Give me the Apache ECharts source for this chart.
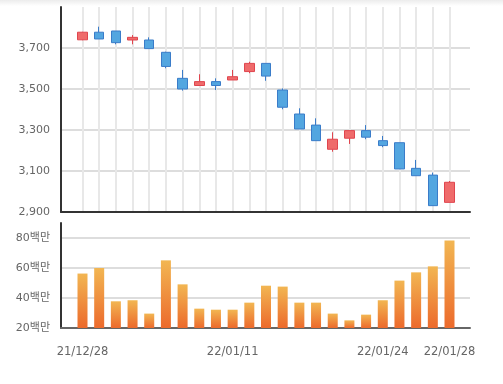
<!DOCTYPE html>
<html>
<head>
<meta charset="utf-8">
<script src="https://cdn.jsdelivr.net/npm/echarts@6/dist/echarts.min.js"></script>
<style>
html,body{margin:0;padding:0;background:#fff;}
#chart{width:503px;height:384px;}
</style>
</head>
<body>
<div id="chart"></div>
<script>
// ---- data ----
const dates = ['21/12/28','21/12/29','21/12/30','22/01/03','22/01/04','22/01/05','22/01/06','22/01/07','22/01/10','22/01/11','22/01/12','22/01/13','22/01/14','22/01/17','22/01/18','22/01/19','22/01/20','22/01/21','22/01/24','22/01/25','22/01/26','22/01/27','22/01/28'];
const opens  = [3740,3777,3783,3739,3739,3679,3552,3517,3536,3544,3585,3625,3495,3378,3324,3206,3260,3297,3248,3238,3113,3080,2947];
const closes = [3777,3744,3726,3752,3697,3610,3500,3536,3517,3560,3625,3563,3411,3305,3248,3255,3297,3265,3224,3110,3077,2931,3045];
const lows   = [3738,3744,3718,3718,3697,3601,3492,3517,3495,3544,3577,3540,3401,3305,3248,3194,3232,3255,3216,3110,3077,2931,2947];
const highs  = [3779,3804,3783,3763,3752,3682,3593,3572,3552,3593,3633,3625,3503,3406,3357,3289,3297,3324,3271,3238,3154,3092,3051];
const volumes = [56.3,60,37.8,38.5,29.6,65.1,49.1,32.9,32.2,32.2,36.9,48.2,47.6,36.9,36.9,29.6,25.1,28.9,38.5,51.6,57.1,61.1,78.4].map(v => v * 1e6);
const shownDateIdx = [0, 9, 18, 22];
const priceTicks = {min: 2900, max: 3900, interval: 200};
const volTicks = {min: 20e6, max: 90e6, interval: 20e6};

const candleData = opens.map((o, i) => [o, closes[i], lows[i], highs[i]]);

const chart = echarts.init(document.getElementById('chart'), null, {renderer: 'canvas'});
const labelStyle = {color: '#666', fontSize: 11, fontFamily: 'DejaVu Sans, "Noto Sans CJK KR", sans-serif'};

const frameX = {type: 'value', min: 0, max: 1, axisLabel: {show: false}, axisTick: {show: false}, splitLine: {show: false}};
const step = 367 / 22;

chart.setOption({
  animation: false,
  graphic: [{type: 'rect', left: 0, top: 0, shape: {width: 503, height: 6}, silent: true,
    style: {fill: new echarts.graphic.LinearGradient(0, 0, 0, 1, [{offset: 0, color: '#ececec'}, {offset: 1, color: '#ffffff'}])}}],
  grid: [
    {left: 61, top: 7, width: 409, height: 205},
    {left: 82.5, top: 7, width: 367, height: 205},
    {left: 61, top: 223, width: 409, height: 105},
    {left: 82.5 - step / 2, top: 223, width: step * 23, height: 105}
  ],
  xAxis: [
    Object.assign({gridIndex: 0, axisLine: {lineStyle: {color: '#333', width: 2}}}, frameX),
    {gridIndex: 1, type: 'category', data: dates, boundaryGap: false,
     axisLine: {show: false}, axisTick: {show: false}, axisLabel: {show: false},
     splitLine: {show: true, interval: 0, lineStyle: {color: '#e8e8e8', width: 2}}},
    Object.assign({gridIndex: 2, axisLine: {lineStyle: {color: '#666', width: 2}}}, frameX),
    {gridIndex: 3, type: 'category', data: dates, boundaryGap: true,
     axisLine: {show: false}, axisTick: {show: false}, splitLine: {show: false},
     axisLabel: Object.assign({}, labelStyle, {interval: (i) => shownDateIdx.indexOf(i) >= 0, margin: 18, fontSize: 11.5})}
  ],
  yAxis: [
    {gridIndex: 0, type: 'value', min: priceTicks.min, max: priceTicks.max, interval: priceTicks.interval,
     axisLine: {show: true, lineStyle: {color: '#333', width: 2}}, axisTick: {show: false},
     axisLabel: Object.assign({showMaxLabel: false, margin: 11, formatter: (v) => v.toLocaleString('en-US')}, labelStyle),
     splitLine: {show: true, showMaxLine: false, lineStyle: {color: '#dddddd', width: 2}}},
    {gridIndex: 1, type: 'value', min: priceTicks.min, max: priceTicks.max, show: false, splitLine: {show: false}},
    {gridIndex: 2, type: 'value', min: volTicks.min, max: volTicks.max, interval: volTicks.interval,
     axisLine: {show: true, lineStyle: {color: '#333', width: 2}}, axisTick: {show: false},
     axisLabel: Object.assign({showMaxLabel: false, margin: 11, formatter: (v) => (v / 1e6) + '백만'}, labelStyle),
     splitLine: {show: true, showMaxLine: false, lineStyle: {color: '#dddddd', width: 2}}},
    {gridIndex: 3, type: 'value', min: volTicks.min, max: volTicks.max, show: false, splitLine: {show: false}}
  ],
  series: [
    {type: 'candlestick', xAxisIndex: 1, yAxisIndex: 1, data: candleData, clip: false, barWidth: 10,
     itemStyle: {color: '#ef6b6b', color0: '#53a6e0', borderColor: '#e0454e', borderColor0: '#3a7cc9', borderWidth: 1}},
    {type: 'bar', xAxisIndex: 3, yAxisIndex: 3, data: volumes, clip: true, barWidth: 10,
     itemStyle: {color: new echarts.graphic.LinearGradient(0, 0, 0, 1, [
       {offset: 0, color: '#f2b652'}, {offset: 1, color: '#ec6a2c'}])}}
  ]
});
</script>
</body>
</html>
